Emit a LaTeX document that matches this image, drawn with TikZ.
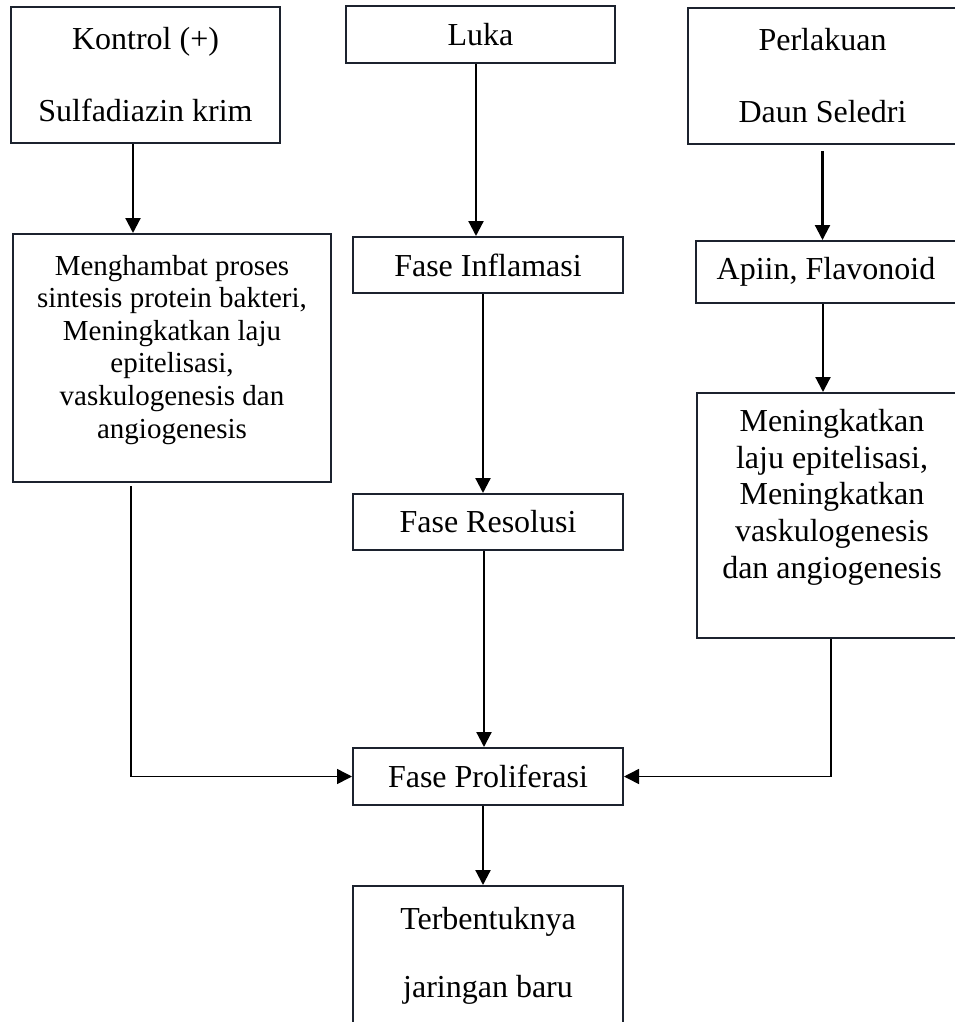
\documentclass[tikz,border=0pt]{standalone}
\usepackage{fontspec}
\setmainfont{Liberation Serif}
\usetikzlibrary{arrows.meta}

\definecolor{boxline}{RGB}{28,34,46}

\begin{document}
\begin{tikzpicture}[
  x=1pt, y=-1pt,
  >={Triangle[length=15pt, width=15pt]},
  line width=2.2pt,
  box/.style={
    rectangle, draw=boxline, line width=2pt, fill=white,
    align=center, inner sep=0pt,
    font=\fontsize{32}{37}\selectfont
  },
  link/.style={line width=1.5pt},
]
  \useasboundingbox (0,0) rectangle (954,1022);

  % -------------------------------------------------------
  %  Top row
  % -------------------------------------------------------
  \node[box, minimum width=269pt, minimum height=136pt] (kontrol)   at (145.5, 75)
    {Kontrol (+)\\[35pt]Sulfadiazin krim};
  \node[box, minimum width=269pt, minimum height=57pt]  (luka)      at (480.5, 34.5) {Luka};
  \node[box, minimum width=269pt, minimum height=136pt] (perlakuan) at (822.5, 76)
    {Perlakuan\\[35pt]Daun Seledri};

  % -------------------------------------------------------
  %  Left column
  % -------------------------------------------------------
  \node[box, minimum width=318pt, minimum height=248pt,
        font=\fontsize{29}{32.6}\selectfont,
        text height=183pt, text depth=23pt] (hambat) at (172, 358)
    {Menghambat proses\\sintesis protein bakteri,\\Meningkatkan laju\\epitelisasi,\\vaskulogenesis dan\\angiogenesis};

  % -------------------------------------------------------
  %  Middle column (phases)
  % -------------------------------------------------------
  \node[box, minimum width=270pt, minimum height=56pt]  (inflam)   at (488, 265)   {Fase Inflamasi};
  \node[box, minimum width=270pt, minimum height=56pt]  (resolusi) at (488, 522)   {Fase Resolusi};
  \node[box, minimum width=270pt, minimum height=57pt]  (prolif)   at (488, 776.5) {Fase Proliferasi};
  \node[box, minimum width=270pt, minimum height=140pt] (baru)     at (488, 956)
    {Terbentuknya\\[31pt]jaringan baru};

  % -------------------------------------------------------
  %  Right column
  % -------------------------------------------------------
  \node[box, minimum width=261pt, minimum height=62pt] (apiin) at (826, 272) {Apiin, Flavonoid};
  \node[box, minimum width=270pt, minimum height=245pt,
        font=\fontsize{32}{36.6}\selectfont,
        text height=167pt, text depth=42pt] (tingkat) at (832, 515.5)
    {Meningkatkan\\laju epitelisasi,\\Meningkatkan\\vaskulogenesis\\dan angiogenesis};

  % -------------------------------------------------------
  %  Arrows down each column
  % -------------------------------------------------------
  \draw[->] ([xshift=-12.5pt]kontrol.south) -- ([xshift=-12.5pt]kontrol.south |- hambat.north);
  \draw[->] ([xshift=-4.5pt]luka.south) -- ([xshift=-4.5pt]luka.south |- inflam.north);
  \draw[->] ([xshift=-5pt]inflam.south) -- ([xshift=-5pt]inflam.south |- resolusi.north);
  \draw[->] ([xshift=-4pt]resolusi.south) -- ([xshift=-4pt]resolusi.south |- prolif.north);
  \draw[->] ([xshift=-5pt]prolif.south) -- ([xshift=-5pt]prolif.south |- baru.north);
  \draw[->] ([yshift=-6pt]perlakuan.south) -- (perlakuan.south |- apiin.north);
  \draw[->] ([xshift=-3pt]apiin.south) -- ([xshift=-3pt]apiin.south |- tingkat.north);

  % -------------------------------------------------------
  %  Side branches into Fase Proliferasi
  % -------------------------------------------------------
  \draw[->, link] ([xshift=-41pt, yshift=-3pt]hambat.south) |- (prolif.west);
  \draw[->, link] ([xshift=-1pt]tingkat.south) |- (prolif.east);

\end{tikzpicture}
\end{document}
